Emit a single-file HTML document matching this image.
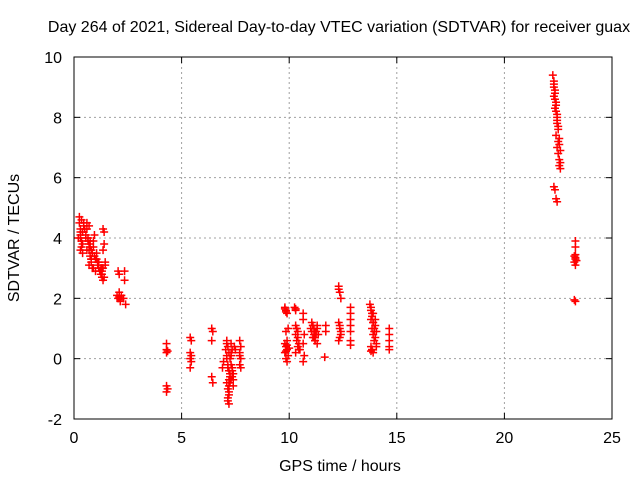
<!DOCTYPE html>
<html><head><meta charset="utf-8"><style>
body{margin:0;background:#fff}
svg{display:block;font-family:"Liberation Sans",sans-serif;font-size:16px}
</style></head><body>
<svg id="chart" width="640" height="480" xmlns="http://www.w3.org/2000/svg">
<text x="339" y="32" text-anchor="middle" font-size="16">Day 264 of 2021, Sidereal Day-to-day VTEC variation (SDTVAR) for receiver guax</text>
<g id="grid"></g>
<g id="ticks"></g>
<g id="pts"></g>
<rect x="74" y="57" width="538" height="362" fill="none" stroke="#000" stroke-width="1"/>
<text x="340" y="471" text-anchor="middle">GPS time / hours</text>
<text transform="translate(19,238) rotate(-90)" text-anchor="middle">SDTVAR / TECUs</text>
</svg>
<script>
const xTicks=[0,5,10,15,20,25];
const yTicks=[-2,0,2,4,6,8,10];
const hours=[0.25,0.25,0.3,0.3,0.3,0.35,0.35,0.4,0.4,0.45,0.3,0.35,
0.6,0.6,0.65,0.7,0.7,0.75,0.8,0.8,0.85,0.9,0.9,0.95,0.7,0.75,0.8,0.85,
1.05,1.1,1.15,1.2,1.25,1.3,1.35,1.1,1.4,1.35,1.4,1.35,1.45,
2.05,2.1,2.0,2.05,2.15,2.1,2.35,2.3,2.4,2.35,
4.3,4.3,4.35,4.3,4.3,4.35,4.3,
5.4,5.45,5.4,5.45,5.4,5.45,5.4,
6.4,6.45,6.4,6.4,6.45,6.9,6.95,
7.1,7.15,7.2,7.1,7.15,7.2,7.25,7.1,7.15,7.2,7.15,7.2,7.3,7.35,7.4,7.3,7.35,7.25,
7.7,7.75,7.7,7.75,7.7,7.75,7.7,
9.8,9.85,9.9,9.8,9.85,9.9,9.8,9.85,9.9,9.95,9.85,
10.25,10.3,10.3,10.35,10.3,10.35,10.4,10.3,10.45,
10.65,10.65,10.7,10.65,10.65,10.7,
11.05,11.1,11.15,11.2,11.25,11.15,11.2,11.3,
11.7,11.7,11.65,
12.3,12.35,12.4,12.3,12.35,12.4,12.35,12.3,
12.85,12.85,12.85,12.85,12.85,12.85,12.85,
13.75,13.8,13.85,13.8,13.9,13.85,13.9,13.95,13.8,13.85,13.9,14.0,14.05,
14.65,14.65,14.65,14.65,14.65,
22.25,22.3,22.3,22.35,22.35,22.4,22.4,22.45,22.45,22.5,22.4,22.5,22.45,22.5,22.55,22.55,22.6,22.3,22.35,22.4,22.45,
23.3,23.3,23.25,23.3,23.25,23.3,23.25,23.3,
0.2,0.3,0.4,0.5,0.55,0.65,0.75,0.85,0.95,1.0,1.05,1.15,1.25,0.6,0.7,0.8,0.9,1.0,0.45,0.55,1.2,1.3,
1.3,1.35,1.4,1.45,1.3,2.1,2.15,2.2,
7.05,7.1,7.15,7.2,7.25,7.3,7.35,7.4,7.1,7.2,7.3,7.4,7.15,7.25,7.35,7.2,7.3,7.45,7.5,
9.8,9.85,9.9,9.95,10.0,9.9,9.85,10.3,10.35,10.4,10.45,10.5,10.4,
11.0,11.05,11.1,11.15,11.2,11.25,11.3,11.35,11.1,11.2,11.3,
12.3,12.35,12.4,13.8,13.85,13.9,13.95,14.0,14.05,13.85,13.95,14.05,13.8,13.9,14.0,
22.3,22.35,22.4,22.45,22.5,22.55,22.6,22.6,22.55,22.45,22.35,22.3,
23.3,23.35,23.3];
const sdtvar=[4.7,4.5,4.3,4.1,4.0,3.9,3.7,3.5,4.2,4.4,3.6,4.6,
4.5,4.3,4.0,3.8,3.6,3.4,3.3,3.2,3.5,3.7,3.9,4.1,4.4,3.9,3.6,3.0,
3.3,3.1,3.0,2.9,2.8,2.7,2.6,3.2,4.2,4.3,3.8,3.6,3.1,
2.9,2.8,2.1,2.0,1.9,2.2,2.6,2.0,1.8,2.9,
0.5,0.3,0.25,0.2,-0.9,-1.0,-1.1,
0.7,0.6,0.2,0.1,0.0,-0.1,-0.3,
1.0,0.9,0.6,-0.6,-0.8,-0.3,-0.1,
0.6,0.4,0.2,0.0,-0.2,-0.4,-0.6,-0.8,-1.0,-1.2,-1.4,-1.5,0.5,0.3,-0.7,0.1,-0.3,-0.8,
0.6,0.4,0.2,0.0,-0.2,-0.3,0.1,
1.7,1.6,1.5,0.5,0.4,0.3,0.2,0.0,-0.1,1.0,0.9,
1.7,1.6,1.1,1.0,0.8,0.6,0.4,0.2,0.3,
1.5,1.3,0.8,0.5,-0.1,0.1,
1.2,1.1,1.0,0.9,0.8,0.7,0.6,0.5,
1.1,0.9,0.05,
2.4,2.2,2.0,1.2,1.0,0.9,0.7,0.6,
1.7,1.5,1.3,1.1,0.9,0.6,0.45,
1.8,1.7,1.5,1.3,1.2,1.0,0.8,0.6,0.4,0.3,0.2,1.1,0.9,
1.0,0.8,0.6,0.4,0.3,
9.4,9.2,9.0,8.8,8.6,8.4,8.2,8.0,7.8,7.6,7.4,7.2,7.0,6.8,6.6,6.4,6.3,5.7,5.6,5.3,5.2,
3.9,3.7,3.4,3.3,3.2,3.1,1.95,1.9,
4.0,4.2,3.8,4.3,4.1,3.9,3.7,3.5,3.4,3.3,3.5,3.2,3.0,3.6,3.1,3.3,3.0,2.9,4.5,4.0,2.9,3.0,
2.8,3.0,2.7,3.2,2.9,2.05,1.95,2.1,
0.3,0.5,-0.3,-1.1,-0.5,0.2,-0.6,-0.9,0.1,-0.7,-0.2,-0.5,-1.3,0.0,-0.4,-0.9,-0.7,0.4,0.3,
1.65,1.55,0.6,0.1,0.35,0.45,0.25,1.65,1.0,0.7,0.5,0.3,0.9,
1.0,0.9,1.1,0.8,0.7,0.9,1.0,0.8,0.7,0.6,1.1,
2.3,1.1,0.8,1.6,1.4,1.2,0.9,0.7,0.5,0.3,1.0,0.4,0.25,1.5,1.3,
9.1,8.9,8.5,8.1,7.7,7.3,6.9,6.5,7.1,7.9,8.3,8.7,
3.35,3.25,3.45];
const NS="http://www.w3.org/2000/svg";
const X0=74,X1=612,Y0=419,Y1=57;
function sx(v){return X0+(v-0)/(25-0)*(X1-X0);}
function sy(v){return Y0-(v+2)/(10+2)*(Y0-Y1);}
function mk(tag,attrs,parent){const e=document.createElementNS(NS,tag);for(const k in attrs)e.setAttribute(k,attrs[k]);parent.appendChild(e);return e;}
const grid=document.getElementById('grid'),ticks=document.getElementById('ticks'),pts=document.getElementById('pts');
xTicks.forEach(t=>{const x=sx(t);
 if(t>0&&t<25){const g=mk('line',{x1:x,x2:x,y1:Y1,y2:Y0,stroke:'#a0a0a0','stroke-dasharray':'2,3'},grid);
 
 }
 mk('line',{x1:x,x2:x,y1:Y0,y2:Y0-6,stroke:'#000'},ticks);
 mk('line',{x1:x,x2:x,y1:Y1,y2:Y1+6,stroke:'#000'},ticks);
 const tx=mk('text',{x:x,y:Y0+24,'text-anchor':'middle'},ticks);tx.textContent=t;
 
 
});
yTicks.forEach(t=>{const y=sy(t);
 if(t>-2&&t<10){const g=mk('line',{x1:X0,x2:X1,y1:y,y2:y,stroke:'#a0a0a0','stroke-dasharray':'2,3'},grid);
 
 }
 mk('line',{x1:X0,x2:X0+6,y1:y,y2:y,stroke:'#000'},ticks);
 mk('line',{x1:X1,x2:X1-6,y1:y,y2:y,stroke:'#000'},ticks);
 const tx=mk('text',{x:X0-12,y:y+6,'text-anchor':'end'},ticks);tx.textContent=t;
 
 
});
hours.forEach((h,i)=>{const x=sx(h),y=sy(sdtvar[i]);
 const p=mk('path',{d:`M${x-4},${y}H${x+4}M${x},${y-4}V${y+4}`,stroke:'#ff0000','stroke-width':1.5,fill:'none'},pts);
 
 
});
</script>
</body></html>
